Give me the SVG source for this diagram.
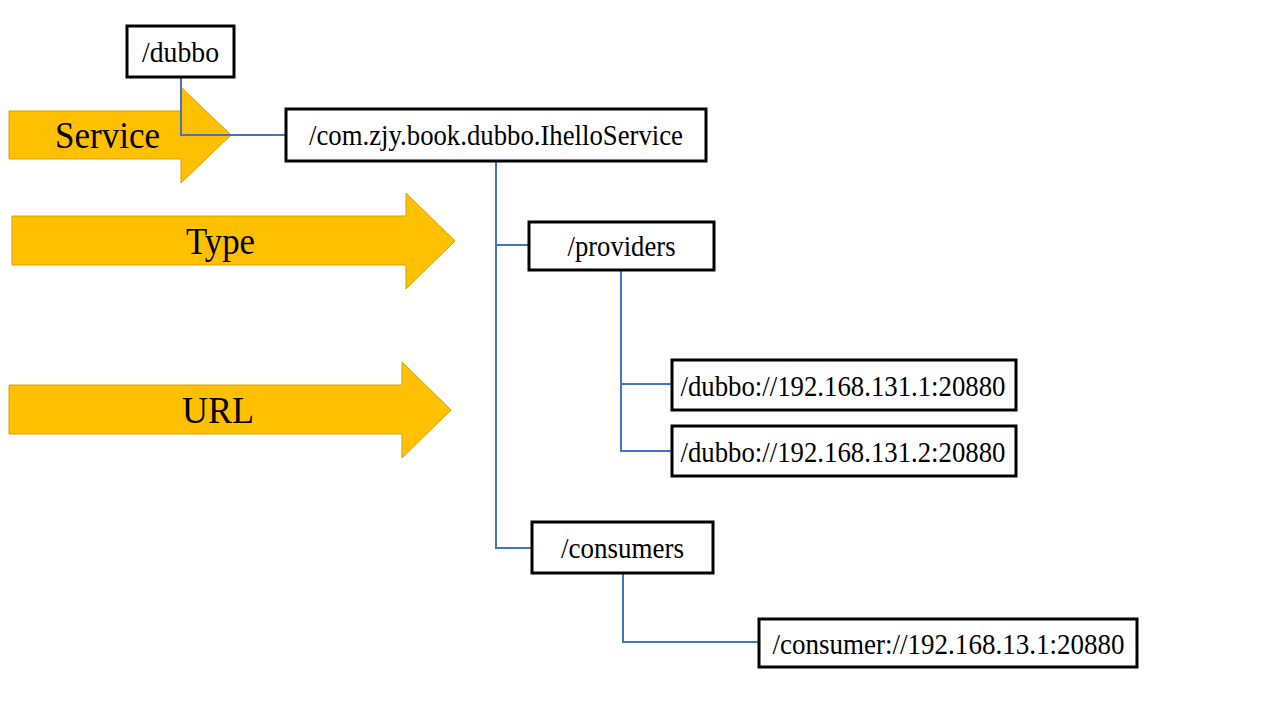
<svg xmlns="http://www.w3.org/2000/svg" width="1280" height="720" viewBox="0 0 1280 720">
<style>
.bg{fill:#ffffff}
.arrow{fill:#FFC000;stroke:#D8A200;stroke-width:1}
.alabel{font-family:"Liberation Serif","Times New Roman",serif;font-size:37px;fill:#000;text-anchor:middle}
.box{fill:#ffffff;stroke:#000000;stroke-width:3}
.label{font-family:"Liberation Serif","Times New Roman",serif;font-size:29px;fill:#000;text-anchor:middle}
.conn{fill:none;stroke:#4472C4;stroke-width:2}
</style>
<rect class="bg" x="0" y="0" width="1280" height="720"/>
<g id="arrow-service">
<polygon class="arrow" points="9,111 181,111 181,87 231,135 181,183 181,159 9,159"/>
<text class="alabel" x="107.5" y="148" textLength="105" lengthAdjust="spacingAndGlyphs">Service</text>
</g>
<g id="arrow-type">
<polygon class="arrow" points="12,216 406,216 406,193 455,241 406,289 406,265 12,265"/>
<text class="alabel" x="220.5" y="254" textLength="69" lengthAdjust="spacingAndGlyphs">Type</text>
</g>
<g id="arrow-url">
<polygon class="arrow" points="9,385 402,385 402,362 451,410 402,458 402,434 9,434"/>
<text class="alabel" x="218" y="423" textLength="72" lengthAdjust="spacingAndGlyphs">URL</text>
</g>
<g id="connectors">
<path class="conn" d="M181,77 V135 H286"/>
<path class="conn" d="M496,161 V548 H532"/>
<path class="conn" d="M496,245 H529"/>
<path class="conn" d="M621,270 V451 H672"/>
<path class="conn" d="M621,384 H672"/>
<path class="conn" d="M623,573 V642 H759"/>
</g>
<g id="node-dubbo">
<rect class="box" x="127" y="26" width="107" height="51"/>
<text class="label" x="180.5" y="62" textLength="77" lengthAdjust="spacingAndGlyphs">/dubbo</text>
</g>
<g id="node-service">
<rect class="box" x="286" y="109" width="420" height="52"/>
<text class="label" x="496" y="145" textLength="374" lengthAdjust="spacingAndGlyphs">/com.zjy.book.dubbo.IhelloService</text>
</g>
<g id="node-providers">
<rect class="box" x="529" y="222" width="185" height="48"/>
<text class="label" x="621.5" y="256" textLength="108" lengthAdjust="spacingAndGlyphs">/providers</text>
</g>
<g id="node-provider1">
<rect class="box" x="672" y="360" width="344" height="50"/>
<text class="label" x="843" y="396" textLength="325" lengthAdjust="spacingAndGlyphs">/dubbo://192.168.131.1:20880</text>
</g>
<g id="node-provider2">
<rect class="box" x="672" y="426" width="344" height="50"/>
<text class="label" x="843" y="462" textLength="325" lengthAdjust="spacingAndGlyphs">/dubbo://192.168.131.2:20880</text>
</g>
<g id="node-consumers">
<rect class="box" x="532" y="522" width="181" height="51"/>
<text class="label" x="622.5" y="558" textLength="123" lengthAdjust="spacingAndGlyphs">/consumers</text>
</g>
<g id="node-consumer1">
<rect class="box" x="759" y="619" width="378" height="48"/>
<text class="label" x="948.5" y="654" textLength="352" lengthAdjust="spacingAndGlyphs">/consumer://192.168.13.1:20880</text>
</g>
</svg>
